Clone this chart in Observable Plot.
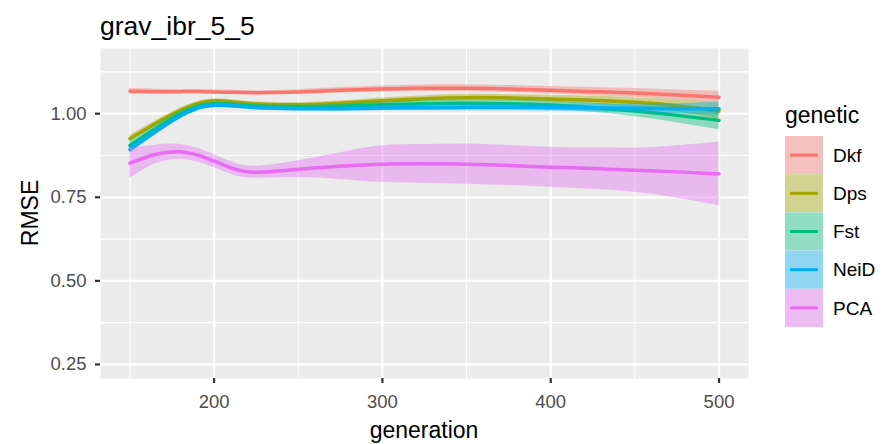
<!DOCTYPE html>
<html>
<head>
<meta charset="utf-8">
<script src="https://cdn.jsdelivr.net/npm/d3@7"></script>
<script src="https://cdn.jsdelivr.net/npm/@observablehq/plot@0.6"></script>
<style>
  html, body { margin: 0; padding: 0; background: white; }
  #wrap { position: relative; width: 883px; height: 444px; font-family: "Liberation Sans", Arial, sans-serif; overflow: hidden; }
  #wrap > svg.plot { position: absolute; left: 0; top: 0; }
  .lbl { position: absolute; white-space: nowrap; color: black; line-height: 1; }
</style>
</head>
<body>
<div id="wrap"></div>
<script>
const titleText = "grav_ibr_5_5";
const xLabel = "generation";
const yLabel = "RMSE";
const legendTitle = "genetic";

const generations = [150, 165, 180, 195, 210, 225, 250, 275, 300, 325, 350, 375, 400, 425, 450, 475, 500];
const names = ["Dkf", "Dps", "Fst", "NeiD", "PCA"];
const colors = ["#F8766D", "#A3A500", "#00BF7D", "#00B0F6", "#E76BF3"];

const dkf    = [1.067, 1.066, 1.066, 1.066, 1.064, 1.063, 1.065, 1.070, 1.074, 1.076, 1.076, 1.074, 1.070, 1.066, 1.062, 1.056, 1.049];
const dkfHw  = [0.008, 0.007, 0.006, 0.006, 0.006, 0.006, 0.007, 0.008, 0.009, 0.010, 0.010, 0.010, 0.011, 0.012, 0.013, 0.015, 0.018];
const dps    = [0.925, 0.970, 1.010, 1.036, 1.036, 1.029, 1.027, 1.031, 1.039, 1.045, 1.048, 1.047, 1.044, 1.040, 1.034, 1.024, 1.008];
const dpsHw  = [0.010, 0.008, 0.007, 0.006, 0.006, 0.006, 0.006, 0.007, 0.008, 0.009, 0.010, 0.010, 0.011, 0.012, 0.014, 0.018, 0.025];
const fst    = [0.905, 0.955, 1.000, 1.027, 1.028, 1.022, 1.020, 1.022, 1.027, 1.030, 1.031, 1.030, 1.026, 1.018, 1.008, 0.995, 0.980];
const fstHw  = [0.010, 0.008, 0.007, 0.006, 0.006, 0.006, 0.006, 0.007, 0.008, 0.009, 0.010, 0.011, 0.012, 0.014, 0.017, 0.022, 0.028];
const neid   = [0.893, 0.945, 0.993, 1.022, 1.024, 1.018, 1.015, 1.015, 1.017, 1.018, 1.019, 1.019, 1.018, 1.017, 1.016, 1.015, 1.015];
const neidHw = [0.011, 0.009, 0.007, 0.006, 0.006, 0.006, 0.006, 0.007, 0.008, 0.009, 0.010, 0.010, 0.011, 0.012, 0.013, 0.015, 0.020];
const pca    = [0.852, 0.878, 0.886, 0.868, 0.838, 0.825, 0.834, 0.843, 0.849, 0.850, 0.849, 0.845, 0.840, 0.836, 0.831, 0.826, 0.820];
const pcaHw  = [0.045, 0.028, 0.022, 0.020, 0.019, 0.018, 0.025, 0.040, 0.055, 0.058, 0.060, 0.060, 0.060, 0.062, 0.066, 0.078, 0.095];

const xTicks = [200, 300, 400, 500];
const xMinor = [150, 250, 350, 450];
const yTicks = [0.25, 0.50, 0.75, 1.00];
const yMinor = [0.375, 0.625, 0.875, 1.125];

const seriesValues = [dkf, dps, fst, neid, pca];
const seriesHw = [dkfHw, dpsHw, fstHw, neidHw, pcaHw];

const rows = [];
names.forEach((name, i) => {
  generations.forEach((g, j) => {
    const v = seriesValues[i][j], h = seriesHw[i][j];
    rows.push({generation: g, genetic: name, value: v, lo: v - h, hi: v + h});
  });
});

const smoothMarks = [];
names.forEach((name) => {
  const d = rows.filter(r => r.genetic === name);
  smoothMarks.push(Plot.areaY(d, {x: "generation", y1: "lo", y2: "hi", fill: "genetic", fillOpacity: 0.4, curve: "natural"}));
  smoothMarks.push(Plot.lineY(d, {x: "generation", y: "value", stroke: "genetic", strokeWidth: 3.5, curve: "natural"}));
});

const font = "'Liberation Sans', Arial, sans-serif";

const chart = Plot.plot({
  width: 883,
  height: 444,
  marginLeft: 100,
  marginRight: 135,
  marginTop: 48,
  marginBottom: 66,
  style: {fontFamily: font, background: "white", overflow: "visible"},
  x: {domain: [132.5, 517.5]},
  y: {domain: [0.208, 1.195]},
  color: {domain: names, range: colors},
  marks: [
    Plot.frame({fill: "#EBEBEB", stroke: "none"}),
    Plot.gridX(xMinor, {stroke: "white", strokeOpacity: 1, strokeWidth: 1.1}),
    Plot.gridY(yMinor, {stroke: "white", strokeOpacity: 1, strokeWidth: 1.1}),
    Plot.gridX(xTicks, {stroke: "white", strokeOpacity: 1, strokeWidth: 2.2}),
    Plot.gridY(yTicks, {stroke: "white", strokeOpacity: 1, strokeWidth: 2.2}),
    ...smoothMarks,
    Plot.axisX(xTicks, {tickSize: 5, tickPadding: 11, fontSize: 18.5, stroke: "#333333", fill: "#4D4D4D", strokeWidth: 2.2, label: null, tickFormat: d => String(d)}),
    Plot.axisY(yTicks, {tickSize: 5, tickPadding: 9, fontSize: 18.5, stroke: "#333333", fill: "#4D4D4D", strokeWidth: 2.2, label: null, tickFormat: d3.format(".2f")})
  ]
});
chart.classList.add("plot");

const wrap = document.getElementById("wrap");
wrap.appendChild(chart);

function addLabel(text, css) {
  const el = document.createElement("div");
  el.className = "lbl";
  el.textContent = text;
  Object.assign(el.style, css);
  wrap.appendChild(el);
  return el;
}

addLabel(titleText, {left: "100px", top: "13px", fontSize: "26.5px"});
addLabel(xLabel, {left: "424px", top: "419px", fontSize: "23px", transform: "translateX(-50%)"});
addLabel(yLabel, {left: "30px", top: "213px", fontSize: "23px", transform: "translate(-50%, -50%) rotate(-90deg)"});

// legend
const lg = d3.select(wrap).append("svg")
  .attr("width", 140).attr("height", 260)
  .style("position", "absolute").style("left", "775px").style("top", "95px")
  .style("font-family", font);
lg.append("text").attr("x", 10).attr("y", 27.5).attr("font-size", 23).attr("fill", "black").text(legendTitle);
const keyH = 38.2, keyW = 38, key0 = 41;
names.forEach((name, i) => {
  const g = lg.append("g").attr("transform", `translate(10, ${key0 + i * keyH})`);
  g.append("rect").attr("width", keyW).attr("height", keyH).attr("fill", "#F2F2F2");
  g.append("rect").attr("width", keyW).attr("height", keyH).attr("fill", colors[i]).attr("fill-opacity", 0.4);
  g.append("line").attr("x1", 5).attr("x2", keyW - 5).attr("y1", keyH / 2).attr("y2", keyH / 2)
    .attr("stroke", colors[i]).attr("stroke-width", 3);
  lg.append("text").attr("x", 58).attr("y", key0 + i * keyH + keyH / 2).attr("dy", "0.35em")
    .attr("font-size", 19).attr("fill", "black").text(name);
});
</script>
</body>
</html>
